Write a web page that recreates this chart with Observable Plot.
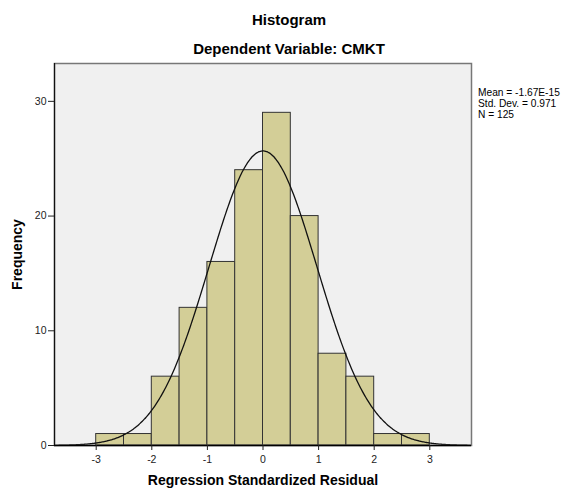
<!DOCTYPE html>
<html>
<head>
<meta charset="utf-8">
<script src="https://cdn.jsdelivr.net/npm/d3@7"></script>
<script src="https://cdn.jsdelivr.net/npm/@observablehq/plot@0.6"></script>
<style>
  html, body { margin: 0; padding: 0; background: #fff; }
  #wrap { position: relative; width: 563px; height: 491px; font-family: "Liberation Sans", Arial, sans-serif; }
  #wrap svg { position: absolute; left: 0; top: 0; }
  .t { position: absolute; white-space: nowrap; color: #000; }
  #title { left: 289px; top: 11px; transform: translateX(-50%); font-weight: bold; font-size: 15px; }
  #subtitle { left: 289px; top: 40px; transform: translateX(-50%); font-weight: bold; font-size: 15px; }
  #stats { left: 478px; top: 87px; font-size: 10.2px; line-height: 11px; }
</style>
</head>
<body>
<div id="wrap">
  <div class="t" id="title">Histogram</div>
  <div class="t" id="subtitle">Dependent Variable: CMKT</div>
  <div class="t" id="stats">Mean = -1.67E-15<br>Std. Dev. = 0.971<br>N = 125</div>
</div>
<script>
// Data
const binStart = [-3, -2.5, -2, -1.5, -1, -0.5, 0, 0.5, 1, 1.5, 2, 2.5];
const counts   = [1, 1, 6, 12, 16, 24, 29, 20, 8, 6, 1, 1];
const binWidth = 0.5;
const meanVal = -1.67e-15;
const sdVal = 0.971;
const nVal = 125;
const xTicks = [-3, -2, -1, 0, 1, 2, 3];
const yTicks = [0, 10, 20, 30];

const bars = binStart.map((b, i) => ({x1: b, x2: b + binWidth, y: counts[i]}));

// fitted normal curve (from the stated Mean, Std. Dev., N)
const curve = d3.range(-3.75, 3.7501, 0.02).map(x => ({
  x,
  y: nVal * binWidth * Math.exp(-0.5 * ((x - meanVal) / sdVal) ** 2) / (sdVal * Math.sqrt(2 * Math.PI))
}));

const chart = Plot.plot({
  width: 563,
  height: 491,
  marginTop: 63,
  marginLeft: 54,
  marginRight: 92,
  marginBottom: 46,
  style: {fontFamily: "Liberation Sans, Arial, sans-serif", background: "transparent"},
  x: {domain: [-3.75, 3.75]},
  y: {domain: [0, 33.3]},
  marks: [
    Plot.frame({fill: "#f0f0f0", stroke: null}),
    Plot.rectY(bars, {x1: "x1", x2: "x2", y: "y", fill: "#d3ce97", stroke: "#333", strokeWidth: 1, insetLeft: 0, insetRight: 0}),
    Plot.line(curve, {x: "x", y: "y", stroke: "#111", strokeWidth: 1.3, curve: "basis"}),
    Plot.frame({stroke: "#777", strokeWidth: 1.5}),
    Plot.ruleY([0], {stroke: "#000", strokeWidth: 1.5}),
    Plot.ruleX([-3.75], {stroke: "#111", strokeWidth: 1.2}),
    Plot.axisX({ticks: xTicks, tickFormat: d => String(d), tickSize: 5, tickPadding: 5, fontSize: 10.5, color: "#222", label: "Regression Standardized Residual", labelAnchor: "center", labelArrow: "none", labelOffset: 39}),
    Plot.axisY({ticks: yTicks, tickFormat: d => String(d), tickSize: 6, tickPadding: 2, fontSize: 10.5, color: "#222", label: "Frequency", labelAnchor: "center", labelArrow: "none", labelOffset: 42})
  ]
});

// Style axis labels bold
chart.querySelectorAll("g[aria-label='x-axis label'] text, g[aria-label='y-axis label'] text").forEach(t => {
  t.style.fontWeight = "bold";
  t.style.fontSize = "14px";
  t.style.fill = "#000";
});
document.getElementById("wrap").appendChild(chart);
</script>
</body>
</html>
